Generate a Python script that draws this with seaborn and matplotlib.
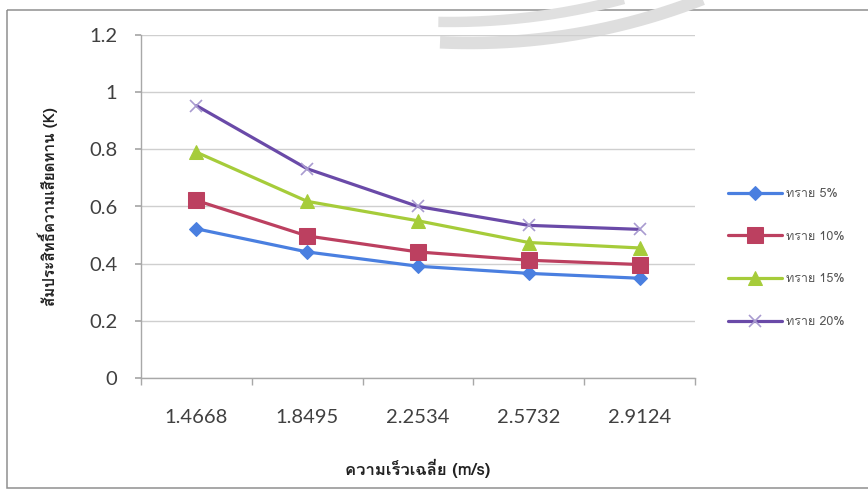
import numpy as np
import pandas as pd
import matplotlib
matplotlib.use("Agg")
import matplotlib.pyplot as plt
from matplotlib import font_manager
from matplotlib.ft2font import FT2Font
from matplotlib.patches import Rectangle
import seaborn as sns

# Average flow speed categories (m/s)
speeds = ["1.4668", "1.8495", "2.2534", "2.5732", "2.9124"]

# Friction coefficient K for each sand content
sand_5 = [0.522, 0.441, 0.391, 0.366, 0.349]
sand_10 = [0.621, 0.497, 0.441, 0.412, 0.397]
sand_15 = [0.790, 0.618, 0.550, 0.474, 0.455]
sand_20 = [0.953, 0.732, 0.600, 0.534, 0.520]

series_names = ["ทราย 5%", "ทราย 10%", "ทราย 15%", "ทราย 20%"]
y_ticks = [0, 0.2, 0.4, 0.6, 0.8, 1.0, 1.2]
y_tick_labels = ["0", "0.2", "0.4", "0.6", "0.8", "1", "1.2"]

x_title = "ความเร็วเฉลี่ย (m/s)"
y_title = "สัมประสิทธิ์ความเสียดทาน (K)"


def find_thai_family():
    """Return the first installed family that has Thai glyphs."""
    best = None
    for f in font_manager.fontManager.ttflist:
        try:
            ft = FT2Font(f.fname)
            if ft.get_char_index(0x0E17) and ft.get_char_index(0x0E32):
                if best is None or f.weight in ("bold", 700):
                    best = f.name
                    if f.weight in ("bold", 700):
                        return f.name
        except Exception:
            continue
    return best


sns.set_theme(style="white")
thai = find_thai_family()
thai_list = [thai, "DejaVu Sans"] if thai else ["DejaVu Sans"]
plt.rcParams["font.family"] = ["Lato", "DejaVu Sans"]

W, H = 868, 496
fig = plt.figure(figsize=(W / 100, H / 100), dpi=100)
fig.patch.set_facecolor("white")

# faint circular watermark at the top of the page (pixel coordinates)
bg = fig.add_axes([0, 0, 1, 1], zorder=-5)
bg.set_xlim(0, W)
bg.set_ylim(H, 0)
bg.axis("off")


def ring(cx, cy, r, t0, t1, color, lw):
    t = np.radians(np.linspace(t0, t1, 200))
    bg.plot(cx + r * np.cos(t), cy + r * np.sin(t), color=color, lw=lw,
            solid_capstyle="butt")


ring(470, -594, 637, 64, 92.7, "#dedede", 9)
ring(450, -646, 668, 70, 91, "#e0e0e0", 7.5)
# chart area frame
bg.add_patch(Rectangle((7, 10), 900, 478, fill=False, ec="#8f8f8f", lw=1.1))

left, right, top, bottom = 141, 695, 35, 378
ax = fig.add_axes([left / W, 1 - bottom / H, (right - left) / W, (bottom - top) / H])
ax.set_facecolor("none")

data = {
    "ทราย 5%": sand_5,
    "ทราย 10%": sand_10,
    "ทราย 15%": sand_15,
    "ทราย 20%": sand_20,
}
colors = ["#4a7fe0", "#bc4060", "#a6cc3a", "#6a4aa8"]
markers = ["D", "s", "^", "x"]
msizes = [7.5, 11.5, 10, 9]

for name, col, mk, ms in zip(series_names, colors, markers, msizes):
    frame = pd.DataFrame({"speed": speeds, "K": data[name]})
    kw = dict(markeredgecolor=col, markerfacecolor=col)
    if mk == "x":
        kw = dict(markeredgecolor="#a99bd0", markeredgewidth=1.2)
    sns.lineplot(data=frame, x="speed", y="K", ax=ax, color=col, lw=2.3,
                 marker=mk, markersize=ms, label=name, sort=False, **kw)

ax.set_xlim(-0.5, len(speeds) - 0.5)
ax.set_ylim(0, 1.2)
ax.set_yticks(y_ticks)
ax.set_yticklabels(y_tick_labels)
ax.set_xticks(range(len(speeds)))
ax.set_xticklabels(speeds)
ax.set_xticks(np.arange(-0.5, len(speeds)), minor=True)

ax.grid(axis="y", color="#cfcfcf", lw=1)
ax.grid(axis="x", visible=False)
for s in ("top", "right"):
    ax.spines[s].set_visible(False)
for s in ("left", "bottom"):
    ax.spines[s].set_color("#a8a8a8")
    ax.spines[s].set_linewidth(1)

ax.tick_params(axis="y", which="major", length=4, color="#a8a8a8", pad=13,
               labelsize=14.5, labelcolor="#404040", left=True)
ax.tick_params(axis="x", which="major", length=0, pad=22,
               labelsize=14.5, labelcolor="#404040")
ax.tick_params(axis="x", which="minor", length=5, color="#a8a8a8",
               bottom=True)

ax.set_xlabel("")
ax.set_ylabel("")
fig.text(418 / W, 1 - 468 / H, x_title, ha="center", va="center",
         fontsize=12, fontweight="bold", family=thai_list, color="#222222")
fig.text(48 / W, 1 - 207 / H, y_title, ha="center", va="center", rotation=90,
         fontsize=11, fontweight="bold", family=thai_list, color="#222222")

leg = ax.legend(loc="upper left", bbox_to_anchor=(728 / W, 1 - 188 / H),
                bbox_transform=fig.transFigure, frameon=False,
                prop={"family": thai_list, "size": 9},
                handlelength=4.3, handletextpad=0.3, labelspacing=2.45,
                borderpad=0, borderaxespad=0)
for t in leg.get_texts():
    t.set_color("#555555")

fig.savefig("out.png", dpi=100, facecolor="white")
